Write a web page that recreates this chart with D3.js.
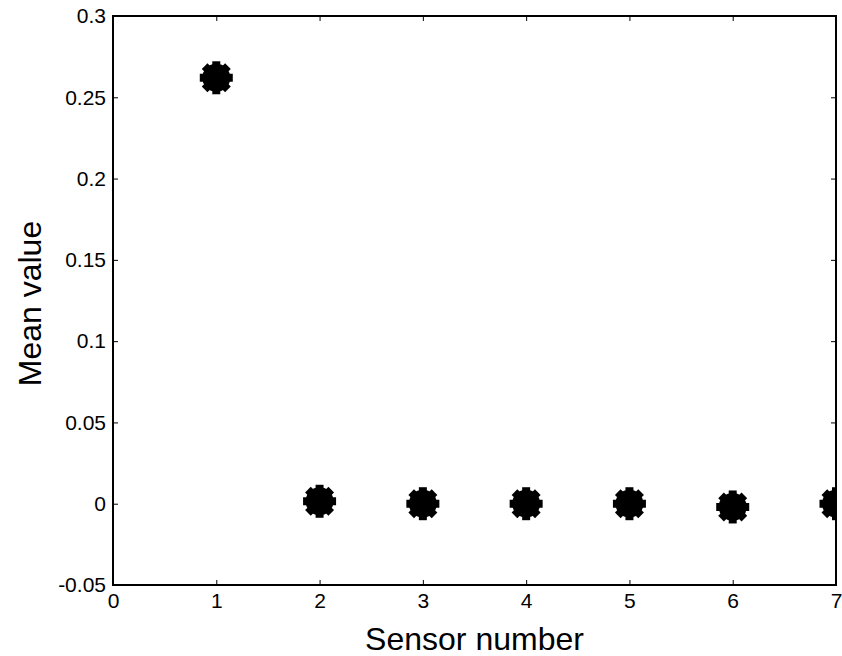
<!DOCTYPE html>
<html>
<head>
<meta charset="utf-8">
<script src="https://cdn.jsdelivr.net/npm/d3@7"></script>
<style>
  body { margin: 0; background: #fff; }
  svg { display: block; font-family: "Liberation Sans", Arial, sans-serif; }
</style>
</head>
<body>
<div id="chart"></div>
<script>
// mean value per sensor
const sensors = [1, 2, 3, 4, 5, 6, 7];
const meanValues = [0.262, 0.0015, 0.0, 0.0, 0.0, -0.002, 0.0];

const xTicks = [0, 1, 2, 3, 4, 5, 6, 7];
const yTicks = [-0.05, 0, 0.05, 0.1, 0.15, 0.2, 0.25, 0.3];

const width = 842;
const height = 656;
const margin = { top: 16, right: 6, bottom: 71, left: 113 };

const svg = d3
  .select("#chart")
  .append("svg")
  .attr("width", width)
  .attr("height", height);

const x = d3.scaleLinear().domain([0, 7]).range([margin.left, width - margin.right]);
const y = d3.scaleLinear().domain([-0.05, 0.3]).range([height - margin.bottom, margin.top]);

const fmt = (d) => (d === 0 ? "0" : String(+d.toFixed(2)));

// clip markers to the axes box
svg.append("clipPath")
  .attr("id", "plot-clip")
  .append("rect")
  .attr("x", x(0))
  .attr("y", y(0.3))
  .attr("width", x(7) - x(0))
  .attr("height", y(-0.05) - y(0.3));

// ticks point inward on all four sides
const tickLen = 5;
const yAxisLeft = d3.axisLeft(y).tickValues(yTicks).tickSize(-tickLen).tickPadding(7).tickFormat(fmt);
const yAxisRight = d3.axisRight(y).tickValues(yTicks).tickSize(-tickLen).tickFormat("");
const xAxisBottom = d3.axisBottom(x).tickValues(xTicks).tickSize(-tickLen).tickPadding(8).tickFormat(fmt);
const xAxisTop = d3.axisTop(x).tickValues(xTicks).tickSize(-tickLen).tickFormat("");

function styleAxis(g) {
  g.select(".domain").remove();
  g.selectAll(".tick line").attr("stroke", "#000").attr("stroke-width", 1);
  g.selectAll(".tick text")
    .attr("fill", "#000")
    .style("font-size", "21px")
    .style("font-family", "'Liberation Sans', Arial, sans-serif");
}

svg.append("g").attr("transform", `translate(${x(0)},0)`).call(yAxisLeft).call(styleAxis);
svg.append("g").attr("transform", `translate(${x(7)},0)`).call(yAxisRight).call(styleAxis);
svg.append("g").attr("transform", `translate(0,${y(-0.05)})`).call(xAxisBottom).call(styleAxis);
svg.append("g").attr("transform", `translate(0,${y(0.3)})`).call(xAxisTop).call(styleAxis);

// axes box
svg.append("rect")
  .attr("x", x(0))
  .attr("y", y(0.3))
  .attr("width", x(7) - x(0))
  .attr("height", y(-0.05) - y(0.3))
  .attr("fill", "none")
  .attr("stroke", "#000")
  .attr("stroke-width", 2);

// thick asterisk markers
const points = sensors.map((s, i) => ({ s, v: meanValues[i] }));
const spoke = 16.5;
const marks = svg.append("g")
  .attr("clip-path", "url(#plot-clip)")
  .selectAll("g")
  .data(points)
  .join("g")
  .attr("transform", (d) => `translate(${x(d.s)},${y(d.v)})`);

marks.append("circle").attr("r", 14).attr("fill", "#000");
[0, 45, 90, 135].forEach((a) => {
  marks.append("line")
    .attr("x1", -spoke)
    .attr("x2", spoke)
    .attr("transform", `rotate(${a})`)
    .attr("stroke", "#000")
    .attr("stroke-width", 8);
});

// axis labels
svg.append("text")
  .attr("x", (x(0) + x(7)) / 2)
  .attr("y", 650)
  .attr("text-anchor", "middle")
  .style("font-size", "32px")
  .text("Sensor number");

svg.append("text")
  .attr("transform", `translate(41,${(y(-0.05) + y(0.3)) / 2 + 3}) rotate(-90)`)
  .attr("text-anchor", "middle")
  .style("font-size", "32px")
  .text("Mean value");
</script>
</body>
</html>
